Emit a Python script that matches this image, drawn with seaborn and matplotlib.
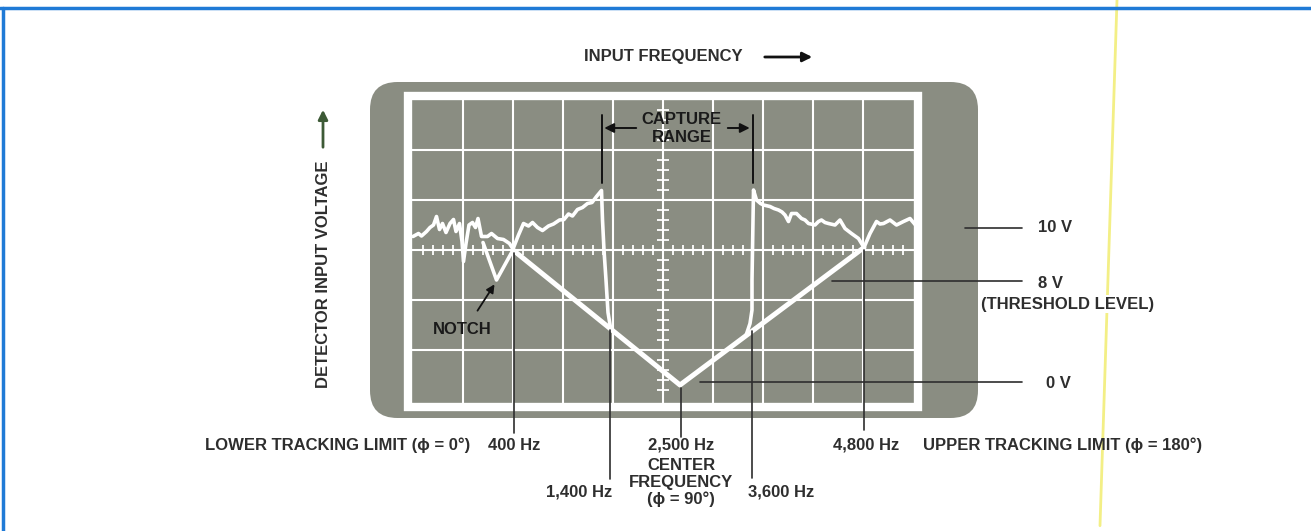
import numpy as np
import pandas as pd
import seaborn as sns
import matplotlib.pyplot as plt
from matplotlib.patches import FancyBboxPatch, Rectangle

# Screen coordinates are in scope divisions (10 x 6 graticule, centre line at y = 0)

# noisy trace, left of the capture range
left_x = [0.0, 0.11, 0.17, 0.27, 0.34, 0.41, 0.47, 0.53, 0.59, 0.66, 0.74, 0.81, 0.86, 0.93,
          0.98, 1.01, 1.06, 1.12, 1.19, 1.25, 1.30, 1.37, 1.49, 1.57, 1.69, 1.81, 1.93, 2.0,
          2.11, 2.21, 2.31, 2.39, 2.49, 2.59, 2.71, 2.81, 2.93, 3.02, 3.11, 3.19, 3.29, 3.39,
          3.49, 3.58, 3.67, 3.77, 3.79, 3.82, 3.86, 3.90, 3.95]
left_y = [0.27, 0.33, 0.28, 0.37, 0.45, 0.50, 0.67, 0.41, 0.53, 0.35, 0.53, 0.61, 0.37, 0.53,
          0.17, -0.23, 0.13, 0.50, 0.55, 0.45, 0.63, 0.27, 0.27, 0.33, 0.23, 0.21, 0.13, 0.02,
          0.30, 0.53, 0.48, 0.55, 0.45, 0.39, 0.48, 0.52, 0.60, 0.61, 0.72, 0.68, 0.81, 0.85,
          0.93, 0.95, 1.07, 1.19, 0.60, 0.0, -0.60, -1.25, -1.55]

# notch just below the lower tracking limit
notch_x = [1.40, 1.67, 2.0]
notch_y = [0.15, -0.60, 0.0]

# noisy trace, right of the capture range
right_x = [6.66, 6.74, 6.78, 6.78, 6.79, 6.80, 6.81, 6.87, 6.95, 7.01, 7.14, 7.22, 7.31, 7.38,
           7.44, 7.51, 7.57, 7.67, 7.77, 7.84, 7.91, 8.04, 8.11, 8.17, 8.24, 8.31, 8.44, 8.54,
           8.64, 8.77, 8.91, 9.02, 9.14, 9.27, 9.34, 9.41, 9.54, 9.67, 9.81, 9.94, 10.05]
right_y = [-1.71, -1.47, -1.20, -0.60, 0.0, 0.60, 1.20, 1.00, 0.93, 0.90, 0.87, 0.83, 0.80, 0.76,
           0.70, 0.57, 0.73, 0.73, 0.63, 0.60, 0.53, 0.50, 0.57, 0.60, 0.55, 0.53, 0.50, 0.60,
           0.43, 0.33, 0.23, 0.05, 0.33, 0.57, 0.52, 0.53, 0.60, 0.50, 0.57, 0.63, 0.50]

# locked (V-shaped) detector response
v_x = [2.0, 5.34, 9.02]
v_y = [0.0, -2.70, 0.05]

# frequency markers
freq_labels = ["400 Hz", "1,400 Hz", "2,500 Hz", "3,600 Hz", "4,800 Hz"]
freq_x = [2.02, 3.93, 5.36, 6.77, 9.02]
freq_top = [-0.05, -1.60, -2.75, -1.62, 0.0]

# voltage markers
volt_labels = ["10 V", "8 V", "0 V"]
volt_y = [0.44, -0.62, -2.64]

sns.set_theme(style="white")
plt.rcParams["font.family"] = ["Liberation Sans", "DejaVu Sans"]

fig = plt.figure(figsize=(13.11, 5.31), dpi=100)
ax = fig.add_axes([0, 0, 1, 1])
ax.set_xlim(-8.26, 17.96)
ax.set_ylim(-5.62, 5.0)
ax.axis("off")

ink = "#2e2e2e"
screen = "#8a8d82"
fs = 12

# scope screen and graticule
ax.add_patch(FancyBboxPatch((-0.86, -3.36), 12.16, 6.72,
                            boxstyle="round,pad=0,rounding_size=0.55",
                            fc=screen, ec="none", zorder=1))
ax.add_patch(Rectangle((-0.11, -3.14), 10.2, 6.22, fill=False, ec="white", lw=6, zorder=3))
for gx in range(1, 10):
    ax.plot([gx, gx], [-3.05, 3.0], color="white", lw=1.5, zorder=2)
for gy in range(-2, 3):
    ax.plot([-0.05, 10.05], [gy, gy], color="white", lw=1.5, zorder=2)
tx = np.arange(0.2, 10, 0.2)
ax.vlines(tx, -0.1, 0.1, color="white", lw=1.3, zorder=2)
ty = np.arange(-2.8, 3, 0.2)
ax.hlines(ty, 4.88, 5.12, color="white", lw=1.3, zorder=2)

# traces
for xs, ys, w in [(left_x, left_y, 2.6), (notch_x, notch_y, 2.6),
                  (right_x, right_y, 2.6), (v_x, v_y, 3.6)]:
    sns.lineplot(x=xs, y=ys, sort=False, estimator=None, color="white", lw=w, ax=ax, zorder=4)

# frequency leaders and labels
bottoms = [-3.66, -4.58, -3.74, -4.56, -3.60]
for fx, top, bot in zip(freq_x, freq_top, bottoms):
    ax.plot([fx, fx], [top, bot], color=ink, lw=1.2, zorder=5)
kw = dict(va="center", color=ink, fontsize=fs, weight="bold")
ax.text(freq_x[0], -3.9, freq_labels[0], ha="center", **kw)
ax.text(3.99, -4.84, freq_labels[1], ha="right", **kw)
ax.text(freq_x[2], -3.9, freq_labels[2], ha="center", **kw)
ax.text(freq_x[2], -4.3, "CENTER", ha="center", **kw)
ax.text(freq_x[2], -4.64, "FREQUENCY", ha="center", **kw)
ax.text(freq_x[2], -4.98, "(\u03d5 = 90\u00b0)", ha="center", **kw)
ax.text(6.70, -4.84, freq_labels[3], ha="left", **kw)
ax.text(freq_x[4] + 0.04, -3.9, freq_labels[4], ha="center", **kw)
ax.text(1.14, -3.9, "LOWER TRACKING LIMIT (\u03d5 = 0\u00b0)", ha="right", **kw)
ax.text(10.2, -3.9, "UPPER TRACKING LIMIT (\u03d5 = 180\u00b0)", ha="left", zorder=6, **kw)

# voltage leaders and labels
starts = [11.04, 8.37, 5.74]
for vy, x0 in zip(volt_y, starts):
    ax.plot([x0, 12.18], [vy, vy], color=ink, lw=1.2, zorder=5)
ax.text(12.84, volt_y[0], volt_labels[0], ha="center", **kw)
ax.text(12.74, volt_y[1] - 0.04, volt_labels[1], ha="center", **kw)
ax.text(13.1, -1.08, "(THRESHOLD LEVEL)", ha="center", zorder=6,
        bbox=dict(fc="white", ec="none", pad=1), **kw)
ax.text(12.9, volt_y[2] - 0.02, volt_labels[2], ha="center", **kw)

# capture range
for cx in [3.77, 6.79]:
    ax.plot([cx, cx], [1.34, 2.7], color="#111111", lw=1.4, zorder=5)
ax.annotate("", xy=(3.77, 2.44), xytext=(4.52, 2.44),
            arrowprops=dict(arrowstyle="-|>", color="#111111", lw=1.4, mutation_scale=14), zorder=5)
ax.annotate("", xy=(6.79, 2.44), xytext=(6.24, 2.44),
            arrowprops=dict(arrowstyle="-|>", color="#111111", lw=1.4, mutation_scale=14), zorder=5)
ax.text(5.37, 2.6, "CAPTURE", ha="center", va="center", color="#1a1a1a", fontsize=fs, weight="bold", zorder=6)
ax.text(5.37, 2.24, "RANGE", ha="center", va="center", color="#1a1a1a", fontsize=fs, weight="bold", zorder=6)

# notch
ax.annotate("", xy=(1.66, -0.64), xytext=(1.26, -1.26),
            arrowprops=dict(arrowstyle="-|>", color="#111111", lw=1.3, mutation_scale=12), zorder=5)
ax.text(0.98, -1.6, "NOTCH", ha="center", va="center", color="#1a1a1a", fontsize=fs, weight="bold", zorder=6)

# axis titles
ax.text(5.0, 3.86, "INPUT FREQUENCY", ha="center", **kw)
ax.annotate("", xy=(8.04, 3.86), xytext=(6.98, 3.86),
            arrowprops=dict(arrowstyle="-|>", color="#111111", lw=2, mutation_scale=14))
ax.text(-1.8, -0.48, "DETECTOR INPUT VOLTAGE", ha="center", rotation=90, **kw)
ax.annotate("", xy=(-1.8, 2.86), xytext=(-1.8, 2.0),
            arrowprops=dict(arrowstyle="-|>", color="#3d5a36", lw=2, mutation_scale=14))

# scan edges of the page
ax.plot([0, 1], [0.985, 0.985], transform=ax.transAxes, color="#1f7ad6", lw=2.5)
ax.plot([0.0025, 0.0025], [0, 0.985], transform=ax.transAxes, color="#1f7ad6", lw=2.5)
ax.plot([1117 / 1311, 1100 / 1311], [1.0, 0.01], transform=ax.transAxes, color="#f3ef86", lw=2, zorder=0)

fig.savefig("out.png", dpi=100)
